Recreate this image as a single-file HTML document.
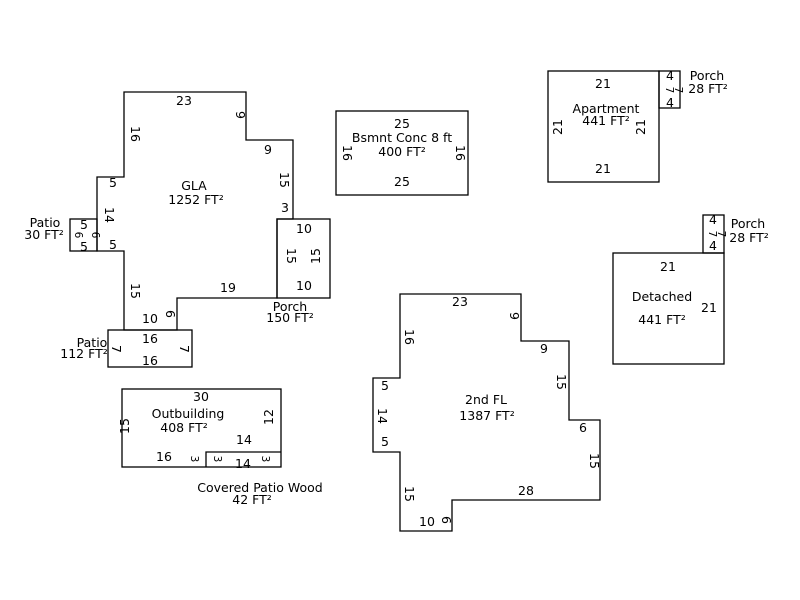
<!DOCTYPE html>
<html><head><meta charset="utf-8"><style>
html,body{margin:0;padding:0;background:#fff;}
svg{display:block;}
text{font-family:"DejaVu Sans","Liberation Sans",sans-serif;font-size:12.5px;fill:#000;}
.s{font-size:10.5px;}
</style></head><body>
<svg width="800" height="600" viewBox="0 0 800 600" xmlns="http://www.w3.org/2000/svg">
<g fill="none" stroke="#000" stroke-width="1.3">
<polygon points="124,92 246,92 246,140 293,140 293,219 277,219 277,298 177,298 177,330 124,330 124,251 97,251 97,177 124,177"/>
<rect x="277" y="219" width="53" height="79"/>
<rect x="70" y="219" width="27" height="32"/>
<rect x="108" y="330" width="84" height="37"/>
<rect x="336" y="111" width="132" height="84"/>
<rect x="548" y="71" width="111" height="111"/>
<rect x="659" y="71" width="21" height="37"/>
<rect x="613" y="253" width="111" height="111"/>
<rect x="703" y="215" width="21" height="38"/>
<polygon points="400,294 521,294 521,341 569,341 569,420 600,420 600,500 452,500 452,531 400,531 400,452 373,452 373,378 400,378"/>
<rect x="122" y="389" width="159" height="78"/>
<polyline points="206,467 206,452 281,452"/>
</g>
<g text-anchor="middle">
<text x="184" y="105">23</text>
<text x="236" y="115" transform="rotate(90 236 115)">9</text>
<text x="131" y="134" transform="rotate(90 131 134)">16</text>
<text x="268" y="154">9</text>
<text x="280" y="180" transform="rotate(90 280 180)">15</text>
<text x="285" y="212">3</text>
<text x="194" y="190">GLA</text>
<text x="196" y="204">1252 FT²</text>
<text x="113" y="187">5</text>
<text x="105" y="215" transform="rotate(90 105 215)">14</text>
<text x="113" y="249">5</text>
<text x="131" y="291" transform="rotate(90 131 291)">15</text>
<text x="228" y="292">19</text>
<text x="150" y="323">10</text>
<text x="166" y="314" transform="rotate(90 166 314)">6</text>
<text x="304" y="233">10</text>
<text x="287" y="256" transform="rotate(90 287 256)">15</text>
<text x="320" y="256" transform="rotate(-90 320 256)">15</text>
<text x="304" y="290">10</text>
<text x="290" y="311">Porch</text>
<text x="290" y="322">150 FT²</text>
<text x="84" y="229">5</text>
<text x="84" y="251">5</text>
<text x="92" y="235" class="s" transform="rotate(90 92 235)">6</text>
<text x="75" y="235" class="s" transform="rotate(90 75 235)">6</text>
<text x="45" y="227">Patio</text>
<text x="44" y="239">30 FT²</text>
<text x="150" y="343">16</text>
<text x="150" y="365">16</text>
<text x="112" y="349" transform="rotate(90 112 349)">7</text>
<text x="180" y="349" transform="rotate(90 180 349)">7</text>
<text x="92" y="347">Patio</text>
<text x="84" y="358">112 FT²</text>
<text x="402" y="128">25</text>
<text x="402" y="142">Bsmnt Conc 8 ft</text>
<text x="402" y="156">400 FT²</text>
<text x="343" y="153" transform="rotate(90 343 153)">16</text>
<text x="456" y="153" transform="rotate(90 456 153)">16</text>
<text x="402" y="186">25</text>
<text x="603" y="88">21</text>
<text x="606" y="113">Apartment</text>
<text x="606" y="125">441 FT²</text>
<text x="562" y="127" transform="rotate(-90 562 127)">21</text>
<text x="645" y="127" transform="rotate(-90 645 127)">21</text>
<text x="603" y="173">21</text>
<text x="670" y="80">4</text>
<text x="670" y="107">4</text>
<text x="666" y="90" class="s" transform="rotate(90 666 90)">7</text>
<text x="675" y="90" class="s" transform="rotate(90 675 90)">7</text>
<text x="707" y="80">Porch</text>
<text x="708" y="93">28 FT²</text>
<text x="713" y="224">4</text>
<text x="713" y="250">4</text>
<text x="709" y="234" class="s" transform="rotate(90 709 234)">7</text>
<text x="718" y="234" class="s" transform="rotate(90 718 234)">7</text>
<text x="748" y="228">Porch</text>
<text x="749" y="242">28 FT²</text>
<text x="668" y="271">21</text>
<text x="662" y="301">Detached</text>
<text x="709" y="312">21</text>
<text x="662" y="324">441 FT²</text>
<text x="460" y="306">23</text>
<text x="510" y="316" transform="rotate(90 510 316)">9</text>
<text x="405" y="337" transform="rotate(90 405 337)">16</text>
<text x="544" y="353">9</text>
<text x="557" y="382" transform="rotate(90 557 382)">15</text>
<text x="385" y="390">5</text>
<text x="378" y="416" transform="rotate(90 378 416)">14</text>
<text x="486" y="404">2nd FL</text>
<text x="487" y="420">1387 FT²</text>
<text x="583" y="432">6</text>
<text x="385" y="446">5</text>
<text x="590" y="461" transform="rotate(90 590 461)">15</text>
<text x="526" y="495">28</text>
<text x="405" y="494" transform="rotate(90 405 494)">15</text>
<text x="427" y="526">10</text>
<text x="442" y="520" transform="rotate(90 442 520)">6</text>
<text x="201" y="401">30</text>
<text x="188" y="418">Outbuilding</text>
<text x="184" y="432">408 FT²</text>
<text x="129" y="426" transform="rotate(-90 129 426)">15</text>
<text x="273" y="417" transform="rotate(-90 273 417)">12</text>
<text x="244" y="444">14</text>
<text x="164" y="461">16</text>
<text x="191" y="459" class="s" transform="rotate(90 191 459)">3</text>
<text x="214" y="459" class="s" transform="rotate(90 214 459)">3</text>
<text x="243" y="468">14</text>
<text x="262" y="459" class="s" transform="rotate(90 262 459)">3</text>
<text x="260" y="492">Covered Patio Wood</text>
<text x="252" y="504">42 FT²</text>
</g>
</svg>
</body></html>
